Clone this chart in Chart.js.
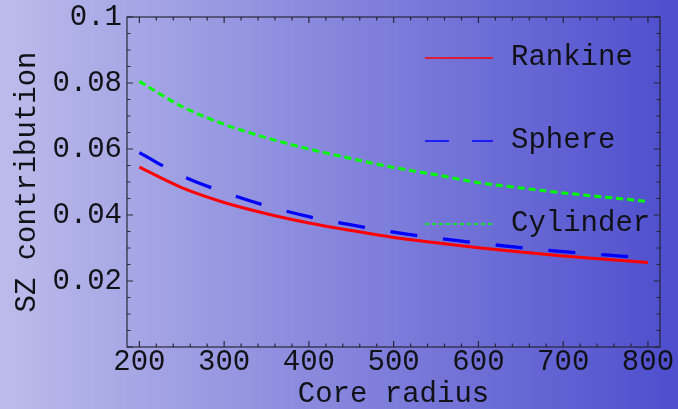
<!DOCTYPE html>
<html><head><meta charset="utf-8">
<script src="https://cdn.jsdelivr.net/npm/chart.js@4/dist/chart.umd.min.js"></script>
<style>html,body{margin:0;padding:0;overflow:hidden;background:#9898dc}#wrap{width:678px;height:409px}</style>
</head><body><div id="wrap"><canvas id="c" width="678" height="409"></canvas></div>
<script>
const coreRadius = [200, 250, 300, 350, 400, 450, 500, 550, 600, 650, 700, 750, 800];
const rankine  = [0.0545, 0.0483, 0.0438, 0.0404, 0.0376, 0.0353, 0.0332, 0.0316, 0.0301, 0.0288, 0.0276, 0.0266, 0.0256];
const sphere   = [0.0589, 0.0519, 0.0469, 0.0428, 0.0395, 0.0370, 0.0348, 0.0330, 0.0315, 0.0301, 0.0289, 0.0279, 0.0269];
const cylinder = [0.0805, 0.0729, 0.0675, 0.0634, 0.0600, 0.0571, 0.0544, 0.0522, 0.0498, 0.0482, 0.0467, 0.0454, 0.0441];
const seriesNames = ['Rankine', 'Sphere', 'Cylinder'];
const xTickValues = [200, 300, 400, 500, 600, 700, 800];
const xTickLabels = ['200', '300', '400', '500', '600', '700', '800'];
const yTickValues = [0.02, 0.04, 0.06, 0.08, 0.1];
const yTickLabels = ['0.02', '0.04', '0.06', '0.08', '0.1'];
const xTitle = 'Core radius';
const yTitle = 'SZ contribution';

const FONT = "'Liberation Mono', 'Courier New', monospace";
const TEXT = '#111118';

function pts(ys) { return coreRadius.map((x, i) => ({x: x, y: ys[i]})); }

const bgPlugin = {
  id: 'bg',
  beforeDraw(chart) {
    const ctx = chart.ctx, w = chart.width, h = chart.height;
    const g = ctx.createLinearGradient(0, 0, w, 0);
    g.addColorStop(0, 'rgb(188,188,235)');
    g.addColorStop(1, 'rgb(78,78,206)');
    ctx.save(); ctx.fillStyle = g; ctx.fillRect(0, 0, w, h); ctx.restore();
  }
};

const framePlugin = {
  id: 'frame',
  afterDatasetsDraw(chart) {
    const ctx = chart.ctx, a = chart.chartArea;
    const xs = chart.scales.x, ys = chart.scales.y;
    ctx.save();
    ctx.strokeStyle = 'rgba(35,35,50,0.95)';
    ctx.lineWidth = 1.2;
    ctx.strokeRect(a.left, a.top, a.right - a.left, a.bottom - a.top);
    ctx.beginPath();
    for (let k = 0; k <= 30; k++) {
      const v = 200 + k * 20;
      const p = xs.getPixelForValue(v);
      const len = (k % 5 === 0) ? 6 : 3.5;
      ctx.moveTo(p, a.bottom); ctx.lineTo(p, a.bottom - len);
      ctx.moveTo(p, a.top); ctx.lineTo(p, a.top + len);
    }
    for (let k = 0; k <= 20; k++) {
      const v = k * 0.005;
      const p = ys.getPixelForValue(v);
      const len = (k % 4 === 0) ? 6 : 3.5;
      ctx.moveTo(a.left, p); ctx.lineTo(a.left + len, p);
      ctx.moveTo(a.right, p); ctx.lineTo(a.right - len, p);
    }
    ctx.stroke();
    ctx.restore();
  }
};

const legendPlugin = {
  id: 'customLegend',
  afterDraw(chart) {
    const ctx = chart.ctx, a = chart.chartArea;
    const x1 = a.left + 298, x2 = a.left + 366, tx = a.left + 384;
    const rows = [a.top + 41, a.top + 124, a.top + 207];
    const dashes = [[], [24, 23], [4, 3]];
    ctx.save();
    chart.data.datasets.forEach((ds, i) => {
      ctx.strokeStyle = ds.borderColor;
      ctx.lineWidth = 1.4;
      ctx.setLineDash(dashes[i]);
      ctx.beginPath(); ctx.moveTo(x1, rows[i]); ctx.lineTo(x2, rows[i]); ctx.stroke();
      ctx.setLineDash([]);
      ctx.fillStyle = TEXT;
      ctx.font = '29px ' + FONT;
      ctx.textBaseline = 'middle';
      ctx.textAlign = 'left';
      ctx.fillText(ds.label, tx, rows[i] - 1);
    });
    ctx.restore();
  }
};

new Chart(document.getElementById('c'), {
  type: 'line',
  data: {
    datasets: [
      {label: seriesNames[0], data: pts(rankine), borderColor: '#ff0000', borderWidth: 3, pointRadius: 0, cubicInterpolationMode: 'monotone', fill: false},
      {label: seriesNames[1], data: pts(sphere), borderColor: '#0000ff', borderWidth: 3.3, borderDash: [27, 26], pointRadius: 0, cubicInterpolationMode: 'monotone', fill: false},
      {label: seriesNames[2], data: pts(cylinder), borderColor: '#00ff00', borderWidth: 3, borderDash: [7, 4], pointRadius: 0, cubicInterpolationMode: 'monotone', fill: false}
    ]
  },
  options: {
    responsive: false,
    animation: false,
    devicePixelRatio: 1,
    layout: {padding: {top: 17, right: 18, left: 0, bottom: 0}},
    plugins: {legend: {display: false}, tooltip: {enabled: false}},
    scales: {
      x: {
        type: 'linear', min: 185.4, max: 814.2,
        afterBuildTicks: s => { s.ticks = xTickValues.map(v => ({value: v})); },
        afterFit: s => { s.height = 62; s.paddingLeft = 0; s.paddingRight = 0; s.paddingTop = 0; s.paddingBottom = 0; },
        grid: {display: false, drawTicks: false},
        border: {display: false},
        ticks: {
          autoSkip: false, maxRotation: 0, padding: 1,
          color: TEXT, font: {family: FONT, size: 29, lineHeight: 1},
          callback: (v, i) => xTickLabels[i]
        },
        title: {display: true, text: xTitle, color: TEXT, font: {family: FONT, size: 29, lineHeight: 1}, padding: {top: 0, bottom: 0}}
      },
      y: {
        type: 'linear', min: 0, max: 0.1,
        afterBuildTicks: s => { s.ticks = yTickValues.map(v => ({value: v})); },
        afterFit: s => { s.width = 127; s.paddingLeft = 0; s.paddingRight = 0; s.paddingTop = 0; s.paddingBottom = 0; },
        grid: {display: false, drawTicks: false},
        border: {display: false},
        ticks: {
          autoSkip: false, padding: 5,
          color: TEXT, font: {family: FONT, size: 29, lineHeight: 1},
          callback: (v, i) => yTickLabels[i]
        },
        title: {display: true, text: yTitle, color: TEXT, font: {family: FONT, size: 29, lineHeight: 1}, padding: {top: 13, bottom: 0}}
      }
    }
  },
  plugins: [bgPlugin, framePlugin, legendPlugin]
});
</script>
</body></html>
